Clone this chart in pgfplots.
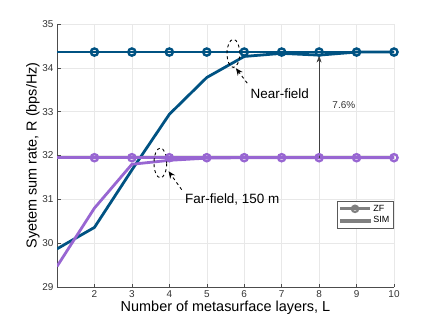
\documentclass[border=0pt]{standalone}
\usepackage{fontspec}
\setmainfont{Liberation Sans}
\usepackage{pgfplots}
\pgfplotsset{compat=1.18}
\usetikzlibrary{arrows.meta}
\definecolor{nearblue}{RGB}{0,82,130}
\definecolor{farpurple}{RGB}{152,102,210}
\definecolor{leggray}{RGB}{128,128,128}

\begin{document}
\begin{tikzpicture}
\begin{axis}[
  name=ax,
  scale only axis,
  width=337bp, height=263bp,
  xmin=1, xmax=10, ymin=29, ymax=35,
  xtick={2,3,...,10}, ytick={29,30,...,35},
  axis x line*=bottom, axis y line*=left,
  axis line style={gray!60!black, line width=0.5pt},
  tick style={gray!60!black, line width=0.5pt},
  tick align=inside, major tick length=3.5bp,
  grid=major, grid style={gray!18, line width=0.5pt},
  /pgf/number format/assume math mode=true,
  tick label style={font=\fontsize{10}{12}\selectfont, text=black!80},
  label style={font=\fontsize{14.5}{17}\selectfont},
  xlabel={Number of metasurface layers, L},
  ylabel={Syetem sum rate, R (bps/Hz)},
  xlabel style={yshift=3bp},
  ylabel style={yshift=-4bp},
  legend style={font=\fontsize{9}{10}\selectfont, at={(0.997,0.224)}, anchor=south east,
    draw=gray!70!black, inner sep=1.5pt, row sep=0pt,
    cells={anchor=west}},
]
% ZF, near-field
\addplot[nearblue, line width=2.8pt, mark=o, mark size=3.6pt,
  mark options={line width=2.4pt, solid}, mark indices={2,3,...,10}, forget plot]
  coordinates {(1,34.36)(2,34.36)(3,34.36)(4,34.36)(5,34.36)(6,34.36)(7,34.36)(8,34.36)(9,34.36)(10,34.36)};
% SIM, near-field
\addplot[nearblue, line width=2.8pt, forget plot]
  coordinates {(1,29.87)(2,30.36)(3,31.67)(4,32.94)(5,33.78)(6,34.26)(7,34.33)(8,34.29)(9,34.36)(10,34.36)};
% ZF, far-field
\addplot[farpurple, line width=2.8pt, mark=o, mark size=3.6pt,
  mark options={line width=2.4pt, solid}, mark indices={2,3,...,10}, forget plot]
  coordinates {(1,31.95)(2,31.95)(3,31.95)(4,31.95)(5,31.95)(6,31.95)(7,31.95)(8,31.95)(9,31.95)(10,31.95)};
% SIM, far-field
\addplot[farpurple, line width=2.8pt, forget plot]
  coordinates {(1,29.47)(2,30.8)(3,31.8)(4,31.89)(5,31.94)(6,31.95)(7,31.95)(8,31.95)(9,31.95)(10,31.95)};

\addlegendimage{legend image code/.code={
  \draw[leggray, line width=3.2pt] (0cm,0cm) -- (1.04cm,0cm);
  \draw[leggray, line width=2.2pt] (0.52cm,0cm) circle[radius=3.2pt];}}
\addlegendentry{ZF}
\addlegendimage{legend image code/.code={
  \fill[leggray] (0cm,-1.6pt) rectangle (1.04cm,1.6pt);}}
\addlegendentry{SIM}

% annotations
\draw[black, dashed, line width=0.9pt] (axis cs:5.71,34.33) ellipse [x radius=0.17, y radius=0.32];
\draw[black, dashed, line width=0.9pt] (axis cs:3.76,31.83) ellipse [x radius=0.17, y radius=0.34];
\draw[black, dashed, line width=0.9pt, -{Stealth[length=7bp,width=6bp]}]
  (axis cs:6.08,33.65) -- (axis cs:5.78,33.99);
\draw[black, dashed, line width=0.9pt, -{Stealth[length=7bp,width=6bp]}]
  (axis cs:4.33,31.22) -- (axis cs:3.98,31.64);
\draw[black!75, line width=0.6pt, -{Stealth[length=7bp,width=5bp]}]
  (axis cs:8,31.95) -- (axis cs:8,34.28);
\node[font=\fontsize{13.5}{16}\selectfont] at (axis cs:6.95,33.42) {Near-field};
\node[font=\fontsize{13.5}{16}\selectfont] at (axis cs:5.68,31.0) {Far-field, 150 m};
\node[font=\fontsize{10}{12}\selectfont, text=black!80] at (axis cs:8.66,33.16) {7.6\%};
\end{axis}
\path ([shift={(-57bp,-40bp)}]ax.south west) rectangle ([shift={(42bp,24bp)}]ax.north east);
\end{tikzpicture}
\end{document}
